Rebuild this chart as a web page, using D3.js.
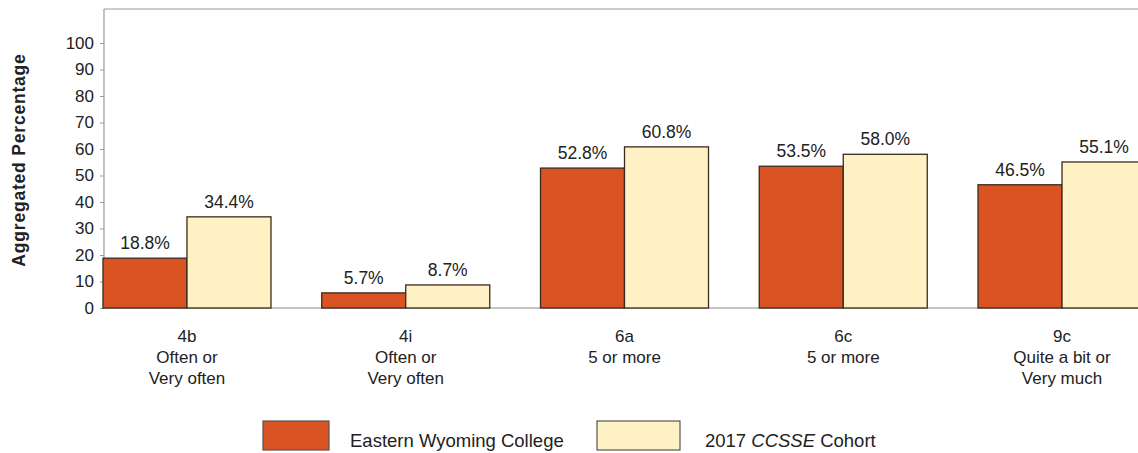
<!DOCTYPE html>
<html><head><meta charset="utf-8">
<script src="https://cdn.jsdelivr.net/npm/d3@7"></script>
<style>body{margin:0;background:#fff;overflow:hidden}svg{display:block;font-family:"Liberation Sans",Arial,sans-serif}</style>
</head><body>
<script>
const categories = ["4b","4i","6a","6c","9c"];
const subLabels = [["Often or","Very often"],["Often or","Very often"],["5 or more"],["5 or more"],["Quite a bit or","Very much"]];
const collegeValues = [18.8, 5.7, 52.8, 53.5, 46.5];
const cohortValues = [34.4, 8.7, 60.8, 58.0, 55.1];
const seriesNames = ["Eastern Wyoming College", "2017 CCSSE Cohort"];
const yTicks = [0,10,20,30,40,50,60,70,80,90,100];

const W = 1138, H = 453;
const svg = d3.select("body").append("svg").attr("width", W).attr("height", H);

const axisX = 104, plotTop = 9, plotBottom = 308;
const y = d3.scaleLinear().domain([0,100]).range([plotBottom, 43]);
const x0 = d3.scaleBand().domain(categories).range([77.6, 1171.4]).paddingInner(0.232).paddingOuter(0.116);
const x1 = d3.scaleBand().domain([0,1]).range([0, x0.bandwidth()]);
const colors = ["#da5322", "#fef2c4"];

// frame lines
svg.append("line").attr("x1", axisX).attr("x2", W).attr("y1", plotTop).attr("y2", plotTop).attr("stroke", "#9a9a9a").attr("stroke-width", 1.2);
svg.append("line").attr("x1", axisX).attr("x2", W).attr("y1", plotBottom).attr("y2", plotBottom).attr("stroke", "#8a8a8a").attr("stroke-width", 1.2);

// y axis
const yAxis = d3.axisLeft(y).tickValues(yTicks).tickSize(4).tickPadding(6);
const gy = svg.append("g").attr("transform", `translate(${axisX},0)`).call(yAxis);
gy.select(".domain").remove();
gy.selectAll(".tick line").attr("stroke", "#999");
gy.selectAll(".tick text").attr("font-size", 17).attr("fill", "#222").attr("font-family", '"Liberation Sans",Arial,sans-serif');
svg.append("line").attr("x1", axisX).attr("x2", axisX).attr("y1", plotTop).attr("y2", plotBottom).attr("stroke", "#9a9a9a").attr("stroke-width", 1.2);

svg.append("text").attr("transform", `translate(25,160) rotate(-90)`).attr("text-anchor", "middle")
  .attr("font-size", 17.5).attr("font-weight", "bold").attr("fill", "#222").attr("letter-spacing", 0.8).text("Aggregated Percentage");

// bars
const data = categories.map((c,i) => ({c, vals:[collegeValues[i], cohortValues[i]]}));
const groups = svg.append("g").selectAll("g").data(data).join("g").attr("transform", d => `translate(${x0(d.c)},0)`);
groups.selectAll("rect").data(d => d.vals.map((v,k)=>({v,k}))).join("rect")
  .attr("x", d => x1(d.k)).attr("width", x1.bandwidth())
  .attr("y", d => y(d.v)).attr("height", d => y(0) - y(d.v))
  .attr("fill", d => colors[d.k]).attr("stroke", "#3a2a20").attr("stroke-width", 1.3);
groups.selectAll("text").data(d => d.vals.map((v,k)=>({v,k}))).join("text")
  .attr("x", d => x1(d.k) + x1.bandwidth()/2).attr("y", d => y(d.v) - 9)
  .attr("text-anchor", "middle").attr("font-size", 17.5).attr("fill", "#222")
  .text(d => d.v.toFixed(1) + "%");

// x labels
const xl = svg.append("g").selectAll("text").data(categories).join("text")
  .attr("x", c => x0(c) + x0.bandwidth()/2).attr("y", 342)
  .attr("text-anchor", "middle").attr("font-size", 17).attr("fill", "#222");
xl.each(function(c,i){
  const t = d3.select(this);
  t.append("tspan").attr("x", x0(c) + x0.bandwidth()/2).attr("dy", 0).text(c);
  subLabels[i].forEach(s => t.append("tspan").attr("x", x0(c) + x0.bandwidth()/2).attr("dy", 21).text(s));
});

// legend
const leg = svg.append("g");
leg.append("rect").attr("x", 263).attr("y", 421).attr("width", 66).attr("height", 29).attr("fill", colors[0]).attr("stroke", "#555").attr("stroke-width", 1.2);
leg.append("text").attr("x", 350).attr("y", 447).attr("font-size", 18.5).attr("fill", "#222").text(seriesNames[0]);
leg.append("rect").attr("x", 597).attr("y", 421).attr("width", 83).attr("height", 29).attr("fill", colors[1]).attr("stroke", "#555").attr("stroke-width", 1.2);
const lt = leg.append("text").attr("x", 705).attr("y", 447).attr("font-size", 18.5).attr("fill", "#222");
lt.append("tspan").text("2017 ");
lt.append("tspan").attr("font-style", "italic").text("CCSSE");
lt.append("tspan").text(" Cohort");
</script>
</body></html>
